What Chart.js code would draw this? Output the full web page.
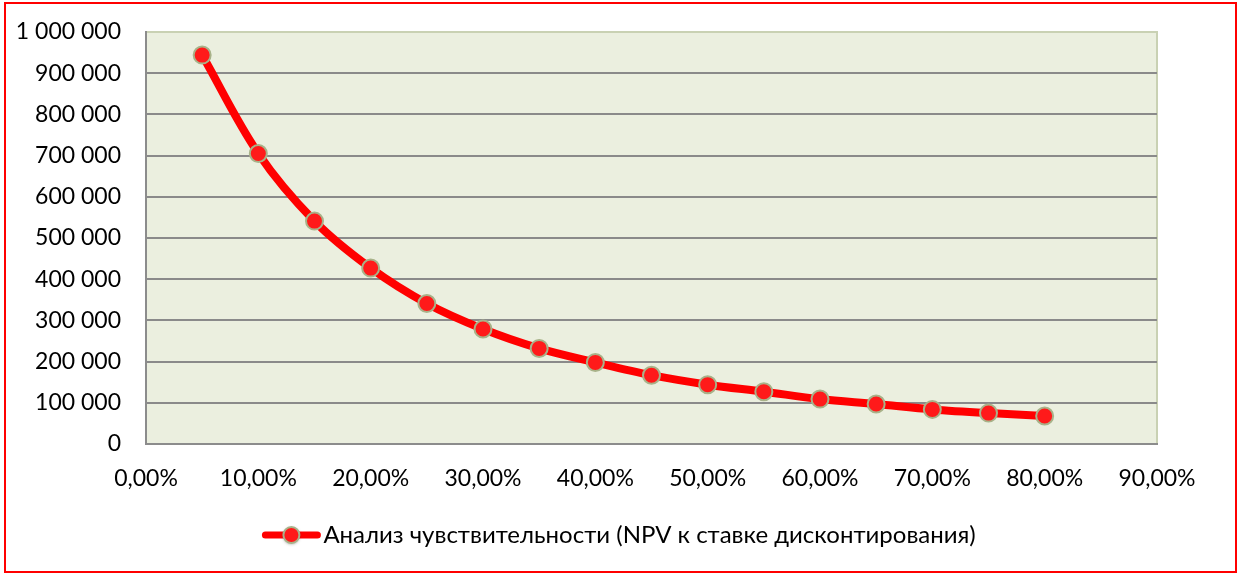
<!DOCTYPE html>
<html>
<head>
<meta charset="utf-8">
<script src="https://cdn.jsdelivr.net/npm/chart.js@4.4.0/dist/chart.umd.min.js"></script>
<style>
  html, body { margin: 0; padding: 0; background: #fff; }
  #wrap { position: relative; width: 1239px; height: 573px; }
  #frame { position: absolute; left: 4px; top: 2px; width: 1229px; height: 567px; border: 2px solid #ff0000; pointer-events: none; }
</style>
</head>
<body>
<div id="wrap">
  <canvas id="npvChart" width="1239" height="573"></canvas>
  <div id="frame"></div>
</div>
<script>
// ставка дисконтирования, %
const rates = [5, 10, 15, 20, 25, 30, 35, 40, 45, 50, 55, 60, 65, 70, 75, 80];
// NPV
const npv = [944000, 705000, 541000, 427000, 341000, 279000, 232000, 198000, 167000, 144000, 127000, 109000, 97000, 84000, 75000, 68000];
const seriesName = 'Анализ чувствительности (NPV к ставке дисконтирования)';
const xTicks = [0, 10, 20, 30, 40, 50, 60, 70, 80, 90];
const yTicks = [0, 100000, 200000, 300000, 400000, 500000, 600000, 700000, 800000, 900000, 1000000];

const fontFamily = 'Lato, "Open Sans", sans-serif';

const fmtNum = (v) => String(Math.round(v)).replace(/\B(?=(\d{3})+(?!\d))/g, ' ');
const fmtPct = (v) => v.toFixed(2).replace('.', ',') + '%';

// plot background + top/right frame
const plotBg = {
    id: 'plotBg',
    beforeDraw(chart) {
        const { ctx, chartArea: a } = chart;
        ctx.save();
        ctx.fillStyle = '#ebefdf';
        ctx.fillRect(a.left, a.top, a.right - a.left, a.bottom - a.top);
        ctx.strokeStyle = '#c9d1b3';
        ctx.lineWidth = 2;
        ctx.beginPath();
        ctx.moveTo(a.left, a.top);
        ctx.lineTo(a.right, a.top);
        ctx.lineTo(a.right, a.bottom);
        ctx.stroke();
        ctx.restore();
    }
};

// legend marker: red line with the point in the middle
const legendMarker = {
    id: 'legendMarker',
    afterDraw(chart) {
        const box = chart.legend && chart.legend.legendHitBoxes && chart.legend.legendHitBoxes[0];
        if (!box) return;
        const { ctx } = chart;
        const opts = chart.legend.options.labels;
        const textStart = box.left + opts.boxWidth + opts.font.size / 2;
        const x1 = textStart - 61, x2 = textStart - 3;
        const cy = box.top + box.height / 2;
        ctx.save();
        ctx.strokeStyle = '#ff0000';
        ctx.lineWidth = 7;
        ctx.lineCap = 'round';
        ctx.beginPath();
        ctx.moveTo(x1 + 3, cy);
        ctx.lineTo(x2 - 3, cy);
        ctx.stroke();
        ctx.shadowColor = 'rgba(60,60,40,0.5)';
        ctx.shadowBlur = 3;
        ctx.shadowOffsetY = 1;
        ctx.beginPath();
        ctx.arc((x1 + x2) / 2, cy, 8, 0, Math.PI * 2);
        ctx.fillStyle = '#ff1a1a';
        ctx.fill();
        ctx.shadowColor = 'transparent';
        ctx.lineWidth = 2;
        ctx.strokeStyle = '#a8b289';
        ctx.stroke();
        ctx.restore();
    }
};

const ctx = document.getElementById('npvChart').getContext('2d');
new Chart(ctx, {
    type: 'line',
    data: {
        datasets: [{
            label: seriesName,
            data: rates.map((r, i) => ({ x: r, y: npv[i] })),
            borderColor: '#ff0000',
            backgroundColor: '#ff0000',
            borderWidth: 8,
            tension: 0.35,
            pointRadius: 8.5,
            pointHoverRadius: 8.5,
            pointBackgroundColor: '#ff1a1a',
            pointBorderColor: '#a8b289',
            pointBorderWidth: 2,
            fill: false
        }]
    },
    options: {
        responsive: false,
        animation: false,
        devicePixelRatio: 1,
        layout: { padding: { left: 8, right: 2, top: 32, bottom: 16 } },
        scales: {
            x: {
                type: 'linear',
                min: 0,
                max: 90,
                afterBuildTicks: (scale) => { scale.ticks = xTicks.map(v => ({ value: v })); },
                grid: { display: false, drawTicks: false },
                border: { display: true, color: '#8c8c8c', width: 2 },
                ticks: {
                    color: '#000',
                    font: { family: fontFamily, size: 23 },
                    padding: 21,
                    maxRotation: 0,
                    autoSkip: false,
                    callback: (v) => fmtPct(v)
                },
                afterFit: (scale) => { scale.height = 67; scale.paddingLeft = 0; scale.paddingRight = 0; }
            },
            y: {
                min: 0,
                max: 1000000,
                afterBuildTicks: (scale) => { scale.ticks = yTicks.map(v => ({ value: v })); },
                grid: {
                    drawTicks: false,
                    lineWidth: 2,
                    color: (c) => (c.tick && c.tick.value === 1000000) ? 'rgba(0,0,0,0)' : '#8a8a8a'
                },
                border: { display: true, color: '#8c8c8c', width: 2 },
                ticks: {
                    color: '#000',
                    font: { family: fontFamily, size: 23 },
                    padding: 25,
                    autoSkip: false,
                    callback: (v) => fmtNum(v)
                },
                afterFit: (scale) => { scale.width = 138; scale.paddingTop = 0; scale.paddingBottom = 0; }
            },
            yR: {
                type: 'linear',
                position: 'right',
                min: 0,
                max: 1000000,
                grid: { display: false, drawTicks: false },
                border: { display: false },
                ticks: { display: false },
                afterFit: (scale) => { scale.width = 80; scale.paddingTop = 0; scale.paddingBottom = 0; }
            }
        },
        plugins: {
            legend: {
                display: true,
                position: 'bottom',
                labels: {
                    color: '#000',
                    font: { family: fontFamily, size: 24 },
                    boxWidth: 42,
                    boxHeight: 7,
                    padding: 12,
                    generateLabels: (chart) => [{
                        text: seriesName,
                        fillStyle: 'rgba(0,0,0,0)',
                        strokeStyle: 'rgba(0,0,0,0)',
                        lineWidth: 0,
                        datasetIndex: 0
                    }]
                }
            },
            tooltip: { enabled: false }
        }
    },
    plugins: [plotBg, legendMarker]
});
</script>
</body>
</html>
